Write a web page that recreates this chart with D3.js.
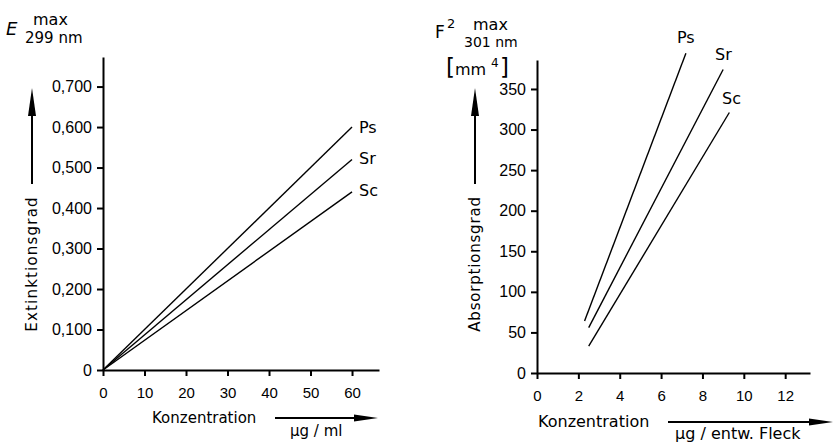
<!DOCTYPE html>
<html>
<head>
<meta charset="utf-8">
<script src="https://cdn.jsdelivr.net/npm/d3@7"></script>
<style>
  body { margin: 0; background: #fff; }
  svg { display: block; font-family: "DejaVu Sans", sans-serif; }
  .axis path, .axis line { stroke: #000; stroke-width: 2; }
  .axis text { fill: #000; }
</style>
</head>
<body>
<div id="chart"></div>
<script>
// Left panel: extinction vs. concentration (µg/ml)
const leftXTicks = [0, 10, 20, 30, 40, 50, 60];
const leftYTicks = [0, 0.1, 0.2, 0.3, 0.4, 0.5, 0.6, 0.7];
const leftSeries = [
    { name: 'Ps', points: [[0, 0], [60, 0.60]] },
    { name: 'Sr', points: [[0, 0], [60, 0.52]] },
    { name: 'Sc', points: [[0, 0], [60, 0.44]] }
];

// Right panel: F² (mm⁴) vs. µg per spot
const rightXTicks = [0, 2, 4, 6, 8, 10, 12];
const rightYTicks = [0, 50, 100, 150, 200, 250, 300, 350];
const rightSeries = [
    { name: 'Ps', points: [[2.3, 64], [7.2, 394]] },
    { name: 'Sr', points: [[2.5, 56], [9.0, 374]] },
    { name: 'Sc', points: [[2.5, 33], [9.3, 321]] }
];

const W = 833, H = 443;
const svg = d3.select('#chart').append('svg')
    .attr('width', W)
    .attr('height', H);

// arrow: line with a long thin head
function arrow(x1, y1, x2, y2, headLen, headW) {
    const dx = x2 - x1, dy = y2 - y1;
    const len = Math.sqrt(dx * dx + dy * dy);
    const ux = dx / len, uy = dy / len;
    const bx = x2 - ux * headLen, by = y2 - uy * headLen;
    svg.append('line')
        .attr('x1', x1).attr('y1', y1).attr('x2', bx).attr('y2', by)
        .attr('stroke', '#000').attr('stroke-width', 2);
    svg.append('path')
        .attr('d', `M${x2},${y2} L${bx - uy * headW / 2},${by + ux * headW / 2} L${bx + uy * headW / 2},${by - ux * headW / 2} Z`)
        .attr('fill', '#000');
}

function panel(cfg) {
    const x = d3.scaleLinear().domain(cfg.xDomain).range(cfg.xRange);
    const y = d3.scaleLinear().domain(cfg.yDomain).range(cfg.yRange);

    svg.append('g')
        .attr('class', 'axis')
        .attr('transform', `translate(0,${cfg.yRange[0]})`)
        .call(d3.axisBottom(x).tickValues(cfg.xTicks).tickSize(6).tickSizeOuter(0).tickPadding(8))
        .call(g => g.selectAll('text').attr('dy', '0.9em').style('font-size', '15px'));

    svg.append('g')
        .attr('class', 'axis')
        .attr('transform', `translate(${cfg.xRange[0]},0)`)
        .call(d3.axisLeft(y).tickValues(cfg.yTicks).tickSize(6).tickSizeOuter(0).tickPadding(5)
            .tickFormat(cfg.yFormat))
        .call(g => g.selectAll('text').style('font-size', '16px'));

    const line = d3.line().x(d => x(d[0])).y(d => y(d[1]));
    svg.append('g').selectAll('path')
        .data(cfg.series)
        .enter()
        .append('path')
        .attr('d', d => line(d.points))
        .attr('fill', 'none')
        .attr('stroke', '#000')
        .attr('stroke-width', 1.4);

    svg.append('g').selectAll('text')
        .data(cfg.series)
        .enter()
        .append('text')
        .attr('x', (d, i) => cfg.labelPos[i][0])
        .attr('y', (d, i) => cfg.labelPos[i][1])
        .style('font-size', '16px')
        .text(d => d.name);

    // rotated axis label + arrow
    svg.append('text')
        .attr('transform', `translate(${cfg.yLabelX},264) rotate(-90)`)
        .attr('text-anchor', 'middle')
        .attr('dy', '0.35em')
        .style('font-size', '15px')
        .style('letter-spacing', cfg.yLabelSpacing)
        .text(cfg.yLabel);
    arrow(cfg.yLabelX, 184, cfg.yLabelX, 88, 28, 8);

    // x label + arrow
    svg.append('text')
        .attr('x', cfg.xLabelX)
        .attr('y', cfg.xLabelY)
        .style('font-size', cfg.xLabelSize)
        .text('Konzentration');
    arrow(cfg.xArrow[0], cfg.xLabelY - 5, cfg.xArrow[1], cfg.xLabelY - 5, 24, 7);
    svg.append('text')
        .attr('x', cfg.unitX)
        .attr('y', cfg.unitY)
        .style('font-size', cfg.xLabelSize)
        .text(cfg.unit);
}

panel({
    xDomain: [0, 66.5], xRange: [103, 379],
    yDomain: [0, 0.773], yRange: [370, 57],
    xTicks: leftXTicks, yTicks: leftYTicks,
    yFormat: d => d === 0 ? '0' : '0,' + d3.format('03d')(Math.round(d * 1000)),
    series: leftSeries,
    labelPos: [[359, 133], [359, 164], [359, 196]],
    yLabel: 'Extinktionsgrad', yLabelX: 32, yLabelSpacing: '1.2px',
    xLabelX: 152, xLabelY: 423, xLabelSize: '15px',
    xArrow: [275, 378], unitX: 290, unitY: 436, unit: 'µg / ml'
});

panel({
    xDomain: [0, 13.2], xRange: [537, 810],
    yDomain: [0, 385.7], yRange: [373, 60],
    xTicks: rightXTicks, yTicks: rightYTicks,
    yFormat: d3.format('d'),
    series: rightSeries,
    labelPos: [[677, 43], [715, 60], [722, 104]],
    yLabel: 'Absorptionsgrad', yLabelX: 475, yLabelSpacing: '0.8px',
    xLabelX: 538, xLabelY: 427, xLabelSize: '16px',
    xArrow: [668, 833], unitX: 675, unitY: 439, unit: 'µg / entw. Fleck'
});

// Titles
const t1 = svg.append('g');
t1.append('text').attr('x', 6).attr('y', 35)
    .style('font-size', '18px').style('font-style', 'italic').text('E');
t1.append('text').attr('x', 33).attr('y', 25)
    .style('font-size', '16px').text('max');
t1.append('text').attr('x', 25).attr('y', 43)
    .style('font-size', '15px').text('299 nm');

const t2 = svg.append('g');
t2.append('text').attr('x', 435).attr('y', 38)
    .style('font-size', '17px').text('F');
t2.append('text').attr('x', 447).attr('y', 28)
    .style('font-size', '13px').text('2');
t2.append('text').attr('x', 473).attr('y', 30)
    .style('font-size', '16px').text('max');
t2.append('text').attr('x', 464).attr('y', 47)
    .style('font-size', '14px').text('301 nm');
t2.append('text').attr('x', 446).attr('y', 75)
    .style('font-size', '23px').text('[');
t2.append('text').attr('x', 455).attr('y', 75)
    .style('font-size', '16px').text('mm');
t2.append('text').attr('x', 491).attr('y', 67)
    .style('font-size', '12px').text('4');
t2.append('text').attr('x', 500).attr('y', 75)
    .style('font-size', '23px').text(']');
</script>
</body>
</html>
